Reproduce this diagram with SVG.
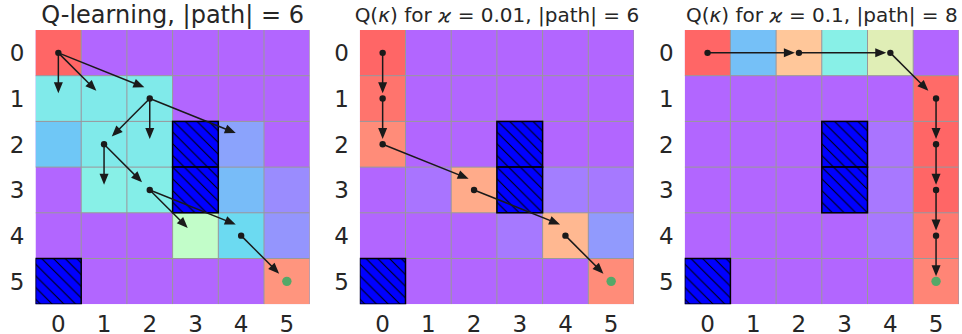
<svg xmlns="http://www.w3.org/2000/svg" width="962" height="334" viewBox="0 0 962 334">
<style>
  .bg { fill: #B266FF; }
  .grid { fill: none; stroke: #999999; stroke-width: 1; }
  .obs { fill: url(#hatch); stroke: #000000; stroke-width: 1.5; }
  .conn line { stroke: #1a1a1a; stroke-width: 1.5; marker-end: url(#head); }
  .dot { fill: #1a1a1a; }
  .goal { fill: #55A868; }
  .tick { font-family: "DejaVu Sans", sans-serif; font-size: 23px; fill: #262626; }
  .title1 { font-family: "DejaVu Sans", sans-serif; font-size: 24px; fill: #262626; text-anchor: middle; }
  .title { font-family: "DejaVu Sans", sans-serif; font-size: 20px; fill: #262626; text-anchor: middle; }
  .yl { text-anchor: end; }
  .xl { text-anchor: middle; }
</style>
<defs>
  <pattern id="hatchlines" patternUnits="userSpaceOnUse" width="11.7" height="11.7">
    <rect width="11.7" height="11.7" fill="#0000FF"/>
    <path d="M-1,-1 L12.7,12.7 M-1,10.7 L1,12.7 M10.7,-1 L12.7,1" stroke="#000" stroke-width="1"/>
  </pattern>
  <pattern id="hatch" href="#hatchlines"/>
  <marker id="head" markerUnits="userSpaceOnUse" markerWidth="11" markerHeight="9" refX="8" refY="4.5" orient="auto" overflow="visible">
    <path d="M0,0 L11,4.5 L0,9 z" fill="#1a1a1a"/>
  </marker>
  <clipPath id="ax"><rect x="0" y="0" width="274.2" height="274.2"/></clipPath>
  <g id="ticks">
    <text class="tick yl" x="-11" y="31.25">0</text>
    <text class="tick yl" x="-11" y="76.95">1</text>
    <text class="tick yl" x="-11" y="122.65">2</text>
    <text class="tick yl" x="-11" y="168.35">3</text>
    <text class="tick yl" x="-11" y="214.05">4</text>
    <text class="tick yl" x="-11" y="259.75">5</text>
    <text class="tick xl" x="22.85" y="301.5">0</text>
    <text class="tick xl" x="68.55" y="301.5">1</text>
    <text class="tick xl" x="114.25" y="301.5">2</text>
    <text class="tick xl" x="159.95" y="301.5">3</text>
    <text class="tick xl" x="205.65" y="301.5">4</text>
    <text class="tick xl" x="251.35" y="301.5">5</text>
  </g>
  <path id="gridlines" class="grid" d="M45.7,0V274.2M91.4,0V274.2M137.1,0V274.2M182.8,0V274.2M228.5,0V274.2M274.2,0V274.2M0,45.7H274.2M0,91.4H274.2M0,137.1H274.2M0,182.8H274.2M0,228.5H274.2"/>
  <g id="obstacles">
    <rect class="obs" x="137.1" y="91.4" width="45.7" height="45.7"/>
    <rect class="obs" x="137.1" y="137.1" width="45.7" height="45.7"/>
    <rect class="obs" x="0" y="228.5" width="45.7" height="45.7"/>
  </g>
</defs>

<text class="title1" x="172.6" y="22.5">Q-learning, |path| = 6</text>
<text class="title" x="496.9" y="22">Q(<tspan font-style="italic">κ</tspan>) for <tspan font-style="italic">ϰ</tspan> = 0.01, |path| = 6</text>
<text class="title" x="821.8" y="22">Q(<tspan font-style="italic">κ</tspan>) for <tspan font-style="italic">ϰ</tspan> = 0.1, |path| = 8</text>

<!-- Panel 1: Q-learning -->
<g id="panel-qlearning" transform="translate(35.5,30)">
  <g clip-path="url(#ax)">
    <rect class="bg" x="0" y="0" width="274.2" height="274.2"/>
    <g id="cells1">
      <rect x="0" y="0" width="45.7" height="45.7" fill="#FF6666"/>
      <rect x="0" y="45.7" width="45.7" height="45.7" fill="#80EAEA"/>
      <rect x="45.7" y="45.7" width="45.7" height="45.7" fill="#80EAEA"/>
      <rect x="91.4" y="45.7" width="45.7" height="45.7" fill="#80EAEA"/>
      <rect x="0" y="91.4" width="45.7" height="45.7" fill="#6FC7F6"/>
      <rect x="45.7" y="91.4" width="45.7" height="45.7" fill="#80EAEA"/>
      <rect x="91.4" y="91.4" width="45.7" height="45.7" fill="#80EAEA"/>
      <rect x="182.8" y="91.4" width="45.7" height="45.7" fill="#8BA3FC"/>
      <rect x="45.7" y="137.1" width="45.7" height="45.7" fill="#88F0E7"/>
      <rect x="91.4" y="137.1" width="45.7" height="45.7" fill="#84EEE8"/>
      <rect x="182.8" y="137.1" width="45.7" height="45.7" fill="#78BCF8"/>
      <rect x="228.5" y="137.1" width="45.7" height="45.7" fill="#9A8CFE"/>
      <rect x="137.1" y="182.8" width="45.7" height="45.7" fill="#C2FDC9"/>
      <rect x="182.8" y="182.8" width="45.7" height="45.7" fill="#6CDAF1"/>
      <rect x="228.5" y="182.8" width="45.7" height="45.7" fill="#9495FD"/>
      <rect x="228.5" y="228.5" width="45.7" height="45.7" fill="#FF957E"/>
    </g>
    <use href="#gridlines"/>
    <use href="#obstacles"/>
  </g>
  <g id="connectors1" class="conn">
    <line x1="22.85" y1="22.85" x2="22.85" y2="60.35"/>
    <line x1="22.85" y1="22.85" x2="58.73" y2="58.73"/>
    <line x1="22.85" y1="22.85" x2="106.07" y2="56.23"/>
    <line x1="114.25" y1="68.55" x2="78.37" y2="104.43"/>
    <line x1="114.25" y1="68.55" x2="114.25" y2="106.05"/>
    <line x1="114.25" y1="68.55" x2="197.47" y2="101.93"/>
    <line x1="68.55" y1="114.25" x2="68.55" y2="151.75"/>
    <line x1="68.55" y1="114.25" x2="104.43" y2="150.13"/>
    <line x1="114.25" y1="159.95" x2="150.13" y2="195.83"/>
    <line x1="114.25" y1="159.95" x2="197.47" y2="193.33"/>
    <line x1="205.65" y1="205.65" x2="241.53" y2="241.53"/>
  </g>
  <g id="states1">
    <circle class="dot" cx="22.85" cy="22.85" r="3.2"/>
    <circle class="dot" cx="114.25" cy="68.55" r="3.2"/>
    <circle class="dot" cx="68.55" cy="114.25" r="3.2"/>
    <circle class="dot" cx="114.25" cy="159.95" r="3.2"/>
    <circle class="dot" cx="205.65" cy="205.65" r="3.2"/>
    <circle class="goal" cx="251.35" cy="251.35" r="4.7"/>
  </g>
  <use href="#ticks"/>
</g>

<!-- Panel 2: kappa = 0.01 -->
<g id="panel-k001" transform="translate(359.8,30)">
  <g clip-path="url(#ax)">
    <rect class="bg" x="0" y="0" width="274.2" height="274.2"/>
    <g id="cells2">
      <rect x="0" y="0" width="45.7" height="45.7" fill="#FF6666"/>
      <rect x="0" y="45.7" width="45.7" height="45.7" fill="#FF746D"/>
      <rect x="0" y="91.4" width="45.7" height="45.7" fill="#FF8C79"/>
      <rect x="45.7" y="137.1" width="45.7" height="45.7" fill="#A974FF"/>
      <rect x="91.4" y="137.1" width="45.7" height="45.7" fill="#FFAB8A"/>
      <rect x="182.8" y="137.1" width="45.7" height="45.7" fill="#A37EFF"/>
      <rect x="228.5" y="137.1" width="45.7" height="45.7" fill="#A679FF"/>
      <rect x="137.1" y="182.8" width="45.7" height="45.7" fill="#A679FF"/>
      <rect x="182.8" y="182.8" width="45.7" height="45.7" fill="#FFB891"/>
      <rect x="228.5" y="182.8" width="45.7" height="45.7" fill="#919AFD"/>
      <rect x="228.5" y="228.5" width="45.7" height="45.7" fill="#FF8C79"/>
    </g>
    <use href="#gridlines"/>
    <use href="#obstacles"/>
  </g>
  <g id="connectors2" class="conn">
    <line x1="22.85" y1="22.85" x2="22.85" y2="60.35"/>
    <line x1="22.85" y1="68.55" x2="22.85" y2="106.05"/>
    <line x1="22.85" y1="114.25" x2="106.07" y2="147.63"/>
    <line x1="114.25" y1="159.95" x2="197.47" y2="193.33"/>
    <line x1="205.65" y1="205.65" x2="241.53" y2="241.53"/>
  </g>
  <g id="states2">
    <circle class="dot" cx="22.85" cy="22.85" r="3.2"/>
    <circle class="dot" cx="22.85" cy="68.55" r="3.2"/>
    <circle class="dot" cx="22.85" cy="114.25" r="3.2"/>
    <circle class="dot" cx="114.25" cy="159.95" r="3.2"/>
    <circle class="dot" cx="205.65" cy="205.65" r="3.2"/>
    <circle class="goal" cx="251.35" cy="251.35" r="4.7"/>
  </g>
  <use href="#ticks"/>
</g>

<!-- Panel 3: kappa = 0.1 -->
<g id="panel-k01" transform="translate(684.7,30)">
  <g clip-path="url(#ax)">
    <rect class="bg" x="0" y="0" width="274.2" height="274.2"/>
    <g id="cells3">
      <rect x="0" y="0" width="45.7" height="45.7" fill="#FF6666"/>
      <rect x="45.7" y="0" width="45.7" height="45.7" fill="#75C0F7"/>
      <rect x="91.4" y="0" width="45.7" height="45.7" fill="#FFC79A"/>
      <rect x="137.1" y="0" width="45.7" height="45.7" fill="#88F0E7"/>
      <rect x="182.8" y="0" width="45.7" height="45.7" fill="#E0EEB6"/>
      <rect x="228.5" y="45.7" width="45.7" height="45.7" fill="#FF6B68"/>
      <rect x="182.8" y="91.4" width="45.7" height="45.7" fill="#AA74FF"/>
      <rect x="228.5" y="91.4" width="45.7" height="45.7" fill="#FF6666"/>
      <rect x="182.8" y="137.1" width="45.7" height="45.7" fill="#A878FF"/>
      <rect x="228.5" y="137.1" width="45.7" height="45.7" fill="#FF6666"/>
      <rect x="182.8" y="182.8" width="45.7" height="45.7" fill="#A878FF"/>
      <rect x="228.5" y="182.8" width="45.7" height="45.7" fill="#FF7970"/>
      <rect x="228.5" y="228.5" width="45.7" height="45.7" fill="#FF8576"/>
    </g>
    <use href="#gridlines"/>
    <use href="#obstacles"/>
  </g>
  <g id="connectors3" class="conn">
    <line x1="22.85" y1="22.85" x2="107.15" y2="22.85"/>
    <line x1="114.25" y1="22.85" x2="198.55" y2="22.85"/>
    <line x1="205.65" y1="22.85" x2="241.53" y2="58.73"/>
    <line x1="251.35" y1="68.55" x2="251.35" y2="106.05"/>
    <line x1="251.35" y1="114.25" x2="251.35" y2="151.75"/>
    <line x1="251.35" y1="159.95" x2="251.35" y2="197.45"/>
    <line x1="251.35" y1="205.65" x2="251.35" y2="243.15"/>
  </g>
  <g id="states3">
    <circle class="dot" cx="22.85" cy="22.85" r="3.2"/>
    <circle class="dot" cx="114.25" cy="22.85" r="3.2"/>
    <circle class="dot" cx="205.65" cy="22.85" r="3.2"/>
    <circle class="dot" cx="251.35" cy="68.55" r="3.2"/>
    <circle class="dot" cx="251.35" cy="114.25" r="3.2"/>
    <circle class="dot" cx="251.35" cy="159.95" r="3.2"/>
    <circle class="dot" cx="251.35" cy="205.65" r="3.2"/>
    <circle class="goal" cx="251.35" cy="251.35" r="4.7"/>
  </g>
  <use href="#ticks"/>
</g>
</svg>
